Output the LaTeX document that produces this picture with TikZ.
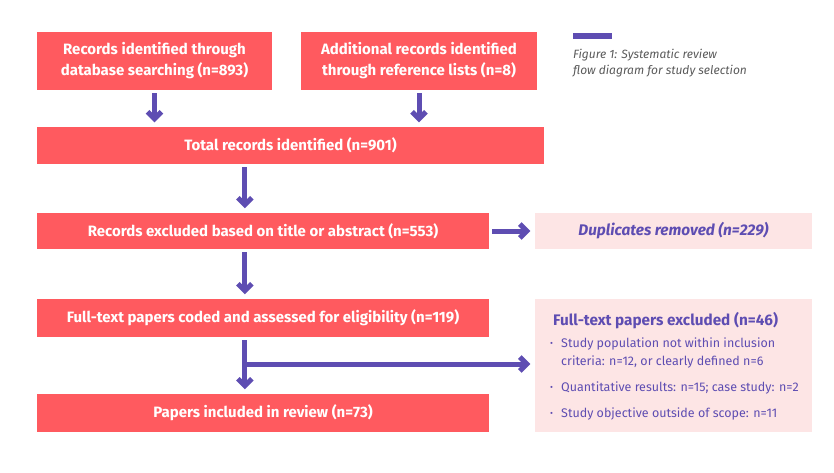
\documentclass[tikz,border=0pt]{standalone}
\usepackage{fontspec}
\setmainfont{Fira Sans}
\usetikzlibrary{arrows.meta}
\definecolor{boxred}{HTML}{FF5A5F}
\definecolor{boxpink}{HTML}{FDE5E5}
\definecolor{flowpurple}{HTML}{5E4DB2}
\definecolor{capgray}{HTML}{5A5A5A}
\newcommand{\dotitem}{\makebox[11pt][l]{\fontsize{9}{9}\selectfont\raisebox{1pt}{\textbullet}}}
\tikzset{
  redbox/.style={fill=boxred, text=white, inner sep=0pt, align=center, font=\fontsize{15}{21}\selectfont\bfseries},
  pinkbox/.style={fill=boxpink, inner sep=0pt},
  flow/.style={draw=flowpurple, line width=5pt, line join=miter, -{Straight Barb[length=7pt,width=14pt]}, shorten <=3pt, shorten >=4.5pt},
  bullet/.style={anchor=west, inner sep=0pt, text=flowpurple, font=\fontsize{12.5}{18}\selectfont, align=left},
}
\begin{document}
\begin{tikzpicture}[x=1pt,y=-1pt]
\useasboundingbox (0,0) rectangle (834,473);
% top row
\node[redbox, minimum width=235pt, minimum height=58pt] (recdb) at (154.5,61) {Records identified through\\database searching (n=893)};
\node[redbox, minimum width=236pt, minimum height=58pt] (recref) at (419,61) {Additional records identified\\through reference lists (n=8)};
\node[redbox, minimum width=507pt, minimum height=37pt] (total) at (290.5,145.5) {Total records identified (n=901)};
\draw[flow] (recdb) -- (recdb |- total.north);
\draw[flow] (recref) -- (recref |- total.north);
% screening
\node[redbox, minimum width=452pt, minimum height=36pt] (excl) at (263,231) {Records excluded based on title or abstract (n=553)};
\node[pinkbox, minimum width=277pt, minimum height=36pt, text=flowpurple, font=\fontsize{15.4}{17}\selectfont\bfseries\itshape] (dup) at (673.5,231) {Duplicates removed (n=229)};
\draw[flow] ([xshift=208pt]total.south west) -- ([xshift=208pt]excl.north west);
\draw[flow] (excl) -- (dup);
% eligibility
\node[redbox, minimum width=452pt, minimum height=38pt] (full) at (263,318) {Full-text papers coded and assessed for eligibility (n=119)};
\node[redbox, minimum width=452pt, minimum height=38pt] (incl) at (263,413) {Papers included in review (n=73)};
\node[pinkbox, minimum width=277pt, minimum height=133pt] (ftexcl) at (673.5,365.5) {};
\draw[flow] ([xshift=208pt]excl.south west) -- ([xshift=208pt]full.north west);
\draw[flow] ([xshift=208pt]full.south west) -- ([xshift=208pt]incl.north west);
\coordinate (branch) at (245,364);
\draw[flow, shorten <=0pt] (branch) -- (branch -| ftexcl.west);
% excluded reasons
\node[anchor=west, inner sep=0pt, text=flowpurple, font=\fontsize{15.3}{17}\selectfont\bfseries] (ftexcltitle) at (553,321) {Full-text papers excluded (n=46)};
\node[bullet] (why1) at (550,353) {\dotitem Study population not within inclusion\\\hspace*{11pt}criteria: n=12, or clearly defined n=6};
\node[bullet] (why2) at (550,388) {\dotitem Quantitative results: n=15; case study: n=2};
\node[bullet] (why3) at (550,414) {\dotitem Study objective outside of scope: n=11};
% caption
\node[fill=flowpurple, minimum width=39pt, minimum height=6pt, inner sep=0pt, anchor=north west] (capbar) at (573,33) {};
\node[anchor=north west, inner sep=0pt, text=capgray, align=left, font=\fontsize{12}{16}\selectfont\itshape] (caption) at (573,49) {Figure 1: Systematic review\\flow diagram for study selection};
\end{tikzpicture}
\end{document}
